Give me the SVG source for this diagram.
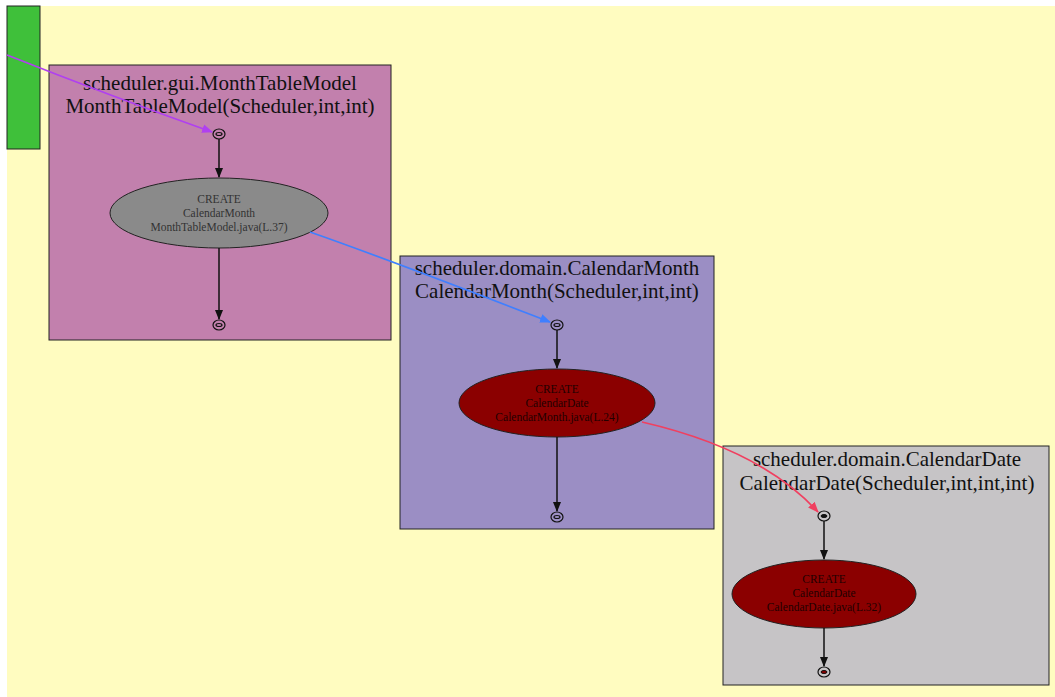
<svg xmlns="http://www.w3.org/2000/svg" width="1055" height="697" viewBox="0 0 1055 697">
  <style>
    .cl { stroke: #222; stroke-width: 1; }
    .title { font-family: "Liberation Serif", serif; font-size: 21px; fill: #111; text-anchor: middle; }
    .lbl { font-family: "Liberation Serif", serif; font-size: 11.5px; text-anchor: middle; }
    .pt { fill: none; stroke: #111; stroke-width: 1.2; }
    .flow { stroke: #111; stroke-width: 1.5; fill: none; }
    .call { stroke-width: 1.7; fill: none; }
  </style>
  <defs>
    <marker id="ah" viewBox="0 0 10 10" refX="9" refY="5" markerWidth="10" markerHeight="10" markerUnits="userSpaceOnUse" orient="auto">
      <path d="M0,1 L10,5 L0,9 Z" fill="#111"/>
    </marker>
    <marker id="ahPurple" viewBox="0 0 10 10" refX="9" refY="5" markerWidth="11" markerHeight="11" markerUnits="userSpaceOnUse" orient="auto">
      <path d="M0,1 L10,5 L0,9 Z" fill="#b040f0"/>
    </marker>
    <marker id="ahBlue" viewBox="0 0 10 10" refX="9" refY="5" markerWidth="11" markerHeight="11" markerUnits="userSpaceOnUse" orient="auto">
      <path d="M0,1 L10,5 L0,9 Z" fill="#3f7fff"/>
    </marker>
    <marker id="ahRed" viewBox="0 0 10 10" refX="9" refY="5" markerWidth="11" markerHeight="11" markerUnits="userSpaceOnUse" orient="auto">
      <path d="M0,1 L10,5 L0,9 Z" fill="#f04060"/>
    </marker>
  </defs>

  <rect x="0" y="0" width="1055" height="697" fill="#ffffff"/>
  <rect x="7" y="6" width="1048" height="691" fill="#fffcc0"/>

  <!-- caller block on the left edge -->
  <g id="caller">
    <rect x="7" y="6" width="33" height="143" fill="#3fc03a" class="cl"/>
  </g>

  <g id="cluster-monthtablemodel">
    <rect x="49" y="65" width="342" height="275" fill="#c280ad" class="cl"/>
    <text class="title" x="220" y="90">scheduler.gui.MonthTableModel</text>
    <text class="title" x="220" y="113">MonthTableModel(Scheduler,int,int)</text>
  </g>
  <g id="n-mtm-entry">
    <ellipse cx="219" cy="134" rx="6" ry="5" class="pt"/>
    <ellipse cx="219" cy="134" rx="3" ry="1.5" class="pt"/>
  </g>
  <g id="n-mtm-create">
    <ellipse cx="219" cy="213" rx="109" ry="35" fill="#8a8a8a" stroke="#222"/>
    <text class="lbl" x="219" y="203" fill="#333">CREATE</text>
    <text class="lbl" x="219" y="217" fill="#333">CalendarMonth</text>
    <text class="lbl" x="219" y="231" fill="#333">MonthTableModel.java(L.37)</text>
  </g>
  <g id="n-mtm-exit">
    <ellipse cx="219" cy="325" rx="6" ry="5" class="pt"/>
    <ellipse cx="219" cy="325" rx="3" ry="1.5" class="pt"/>
  </g>

  <g id="cluster-calendarmonth">
    <rect x="400" y="256" width="314" height="273" fill="#9b8ec4" class="cl"/>
    <text class="title" x="557" y="275">scheduler.domain.CalendarMonth</text>
    <text class="title" x="557" y="298">CalendarMonth(Scheduler,int,int)</text>
  </g>
  <g id="n-cm-entry">
    <ellipse cx="557" cy="325" rx="6" ry="5" class="pt"/>
    <ellipse cx="557" cy="325" rx="3" ry="1.5" class="pt"/>
  </g>
  <g id="n-cm-create">
    <ellipse cx="557" cy="403" rx="98" ry="34" fill="#8b0000" stroke="#222"/>
    <text class="lbl" x="557" y="393" fill="#200">CREATE</text>
    <text class="lbl" x="557" y="407" fill="#200">CalendarDate</text>
    <text class="lbl" x="557" y="421" fill="#200">CalendarMonth.java(L.24)</text>
  </g>
  <g id="n-cm-exit">
    <ellipse cx="557" cy="517" rx="6" ry="5" class="pt"/>
    <ellipse cx="557" cy="517" rx="3" ry="1.5" class="pt"/>
  </g>

  <g id="cluster-calendardate">
    <rect x="723" y="446" width="326" height="239" fill="#c6c4c6" class="cl"/>
    <text class="title" x="887" y="466">scheduler.domain.CalendarDate</text>
    <text class="title" x="887" y="490">CalendarDate(Scheduler,int,int,int)</text>
  </g>
  <g id="n-cd-entry">
    <ellipse cx="824" cy="516" rx="6" ry="5" class="pt"/>
    <ellipse cx="824" cy="516" rx="3" ry="1.5" fill="#111" stroke="#111"/>
  </g>
  <g id="n-cd-create">
    <ellipse cx="824" cy="594" rx="92" ry="34" fill="#8b0000" stroke="#222"/>
    <text class="lbl" x="824" y="583" fill="#200">CREATE</text>
    <text class="lbl" x="824" y="597" fill="#200">CalendarDate</text>
    <text class="lbl" x="824" y="611" fill="#200">CalendarDate.java(L.32)</text>
  </g>
  <g id="n-cd-exit">
    <ellipse cx="824" cy="672" rx="6" ry="5" class="pt"/>
    <ellipse cx="824" cy="672" rx="3" ry="1.5" fill="#8b0000" stroke="#111"/>
  </g>

  <g id="connectors">
    <path class="flow" d="M219,139 L219,177" marker-end="url(#ah)"/>
    <path class="flow" d="M219,248 L219,319" marker-end="url(#ah)"/>
    <path class="flow" d="M557,330 L557,368" marker-end="url(#ah)"/>
    <path class="flow" d="M557,437 L557,511" marker-end="url(#ah)"/>
    <path class="flow" d="M824,521 L824,559" marker-end="url(#ah)"/>
    <path class="flow" d="M824,628 L824,666" marker-end="url(#ah)"/>
    <path class="call" stroke="#b040f0" d="M7,55 C70,80 150,110 212,132" marker-end="url(#ahPurple)"/>
    <path class="call" stroke="#3f7fff" d="M310,232 C390,260 480,295 550,322" marker-end="url(#ahBlue)"/>
    <path class="call" stroke="#f04060" d="M642,422 C720,440 780,470 818,512" marker-end="url(#ahRed)"/>
  </g>
</svg>
